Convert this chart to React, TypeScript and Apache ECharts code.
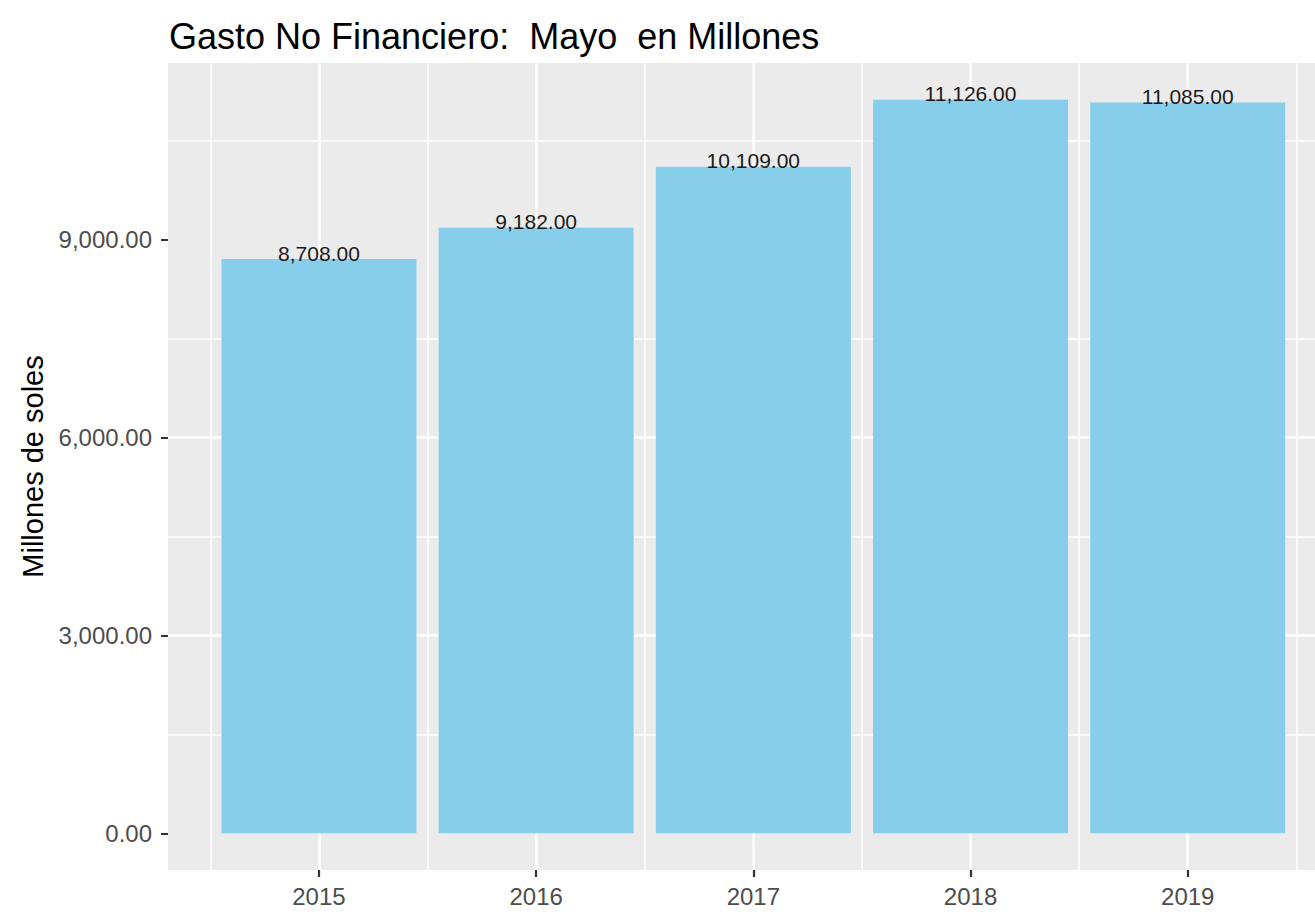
import React, { useEffect, useRef } from "react";
import * as echarts from "echarts";

const years = [2015, 2016, 2017, 2018, 2019];
const gasto = [8708, 9182, 10109, 11126, 11085];
const yTickValues = [0, 3000, 6000, 9000];

const fmt2 = (v: number) =>
  v.toLocaleString("en-US", { minimumFractionDigits: 2, maximumFractionDigits: 2 });

export default function App() {
  const ref = useRef<HTMLDivElement>(null);
  useEffect(() => {
    if (!ref.current) return;
    const chart = echarts.init(ref.current, undefined, { renderer: "svg" });
    const font = "'Liberation Sans', Arial, sans-serif";
    const xMin = 2014.305;
    const xMax = 2019.586;
    chart.setOption({
      animation: false,
      backgroundColor: "#FFFFFF",
      title: {
        text: "Gasto No Financiero:  Mayo  en Millones",
        left: 164,
        top: 13,
        textStyle: { fontFamily: font, fontSize: 36, fontWeight: "normal", color: "#000000" },
      },
      grid: [
        {
          left: 168,
          right: 0,
          top: 63,
          bottom: 47,
          show: true,
          backgroundColor: "#EBEBEB",
          borderWidth: 0,
          containLabel: false,
        },
        {
          left: 168,
          right: 0,
          top: 870,
          bottom: 40,
          show: false,
          containLabel: false,
        },
      ],
      xAxis: [
        {
          gridIndex: 0,
          type: "value",
          min: xMin,
          max: xMax,
          minInterval: 1,
          maxInterval: 1,
          axisLine: { show: false, onZero: false },
          axisTick: { show: false },
          axisLabel: { show: false },
          splitLine: {
            show: true,
            showMinLine: false,
            showMaxLine: false,
            lineStyle: { color: "#FFFFFF", width: 2.5 },
          },
          minorTick: { show: false, splitNumber: 2 },
          minorSplitLine: { show: true, lineStyle: { color: "#FFFFFF", width: 1.5 } },
        },
        {
          gridIndex: 1,
          type: "value",
          position: "bottom",
          min: xMin,
          max: xMax,
          minInterval: 1,
          maxInterval: 1,
          axisLine: { show: false, onZero: false },
          axisTick: { show: false },
          axisLabel: {
            margin: 7,
            fontFamily: font,
            fontSize: 24,
            color: "#4D4D4D",
            customValues: years,
            formatter: (v: number) => String(Math.round(v)),
          },
          splitLine: {
            show: true,
            showMinLine: false,
            showMaxLine: false,
            lineStyle: { color: "#333333", width: 2.2 },
          },
        },
      ],
      yAxis: [
        {
          gridIndex: 0,
          type: "value",
          min: -556.3,
          max: 11682.3,
          minInterval: 3000,
          maxInterval: 3000,
          name: "Millones de soles",
          nameLocation: "middle",
          nameRotate: 90,
          nameGap: 118,
          nameTextStyle: { fontFamily: font, fontSize: 29, color: "#000000" },
          axisLine: { show: false, onZero: false },
          axisTick: {
            show: true,
            length: 7,
            lineStyle: { color: "#333333", width: 2 },
            customValues: yTickValues,
          },
          axisLabel: {
            margin: 16,
            fontFamily: font,
            fontSize: 24,
            color: "#4D4D4D",
            customValues: yTickValues,
            formatter: (v: number) => fmt2(v),
          },
          splitLine: {
            show: true,
            showMinLine: false,
            showMaxLine: false,
            lineStyle: { color: "#FFFFFF", width: 2.5 },
          },
          minorTick: { show: false, splitNumber: 2 },
          minorSplitLine: { show: true, lineStyle: { color: "#FFFFFF", width: 1.5 } },
        },
        {
          gridIndex: 1,
          type: "value",
          min: 0,
          max: 1,
          show: false,
        },
      ],
      series: [
        {
          type: "bar",
          xAxisIndex: 0,
          yAxisIndex: 0,
          data: years.map((y, i) => [y, gasto[i]]),
          barWidth: 195,
          itemStyle: { color: "#87CEEB" },
          label: {
            show: true,
            position: "top",
            distance: 6,
            verticalAlign: "middle",
            fontFamily: font,
            fontSize: 21,
            color: "#1A1A1A",
            formatter: (p: any) => fmt2(p.value[1]),
          },
        },
      ],
    });
    return () => chart.dispose();
  }, []);
  return (
    <div
      ref={ref}
      style={{ position: "fixed", left: 0, top: 0, width: 1315, height: 917 }}
    />
  );
}
